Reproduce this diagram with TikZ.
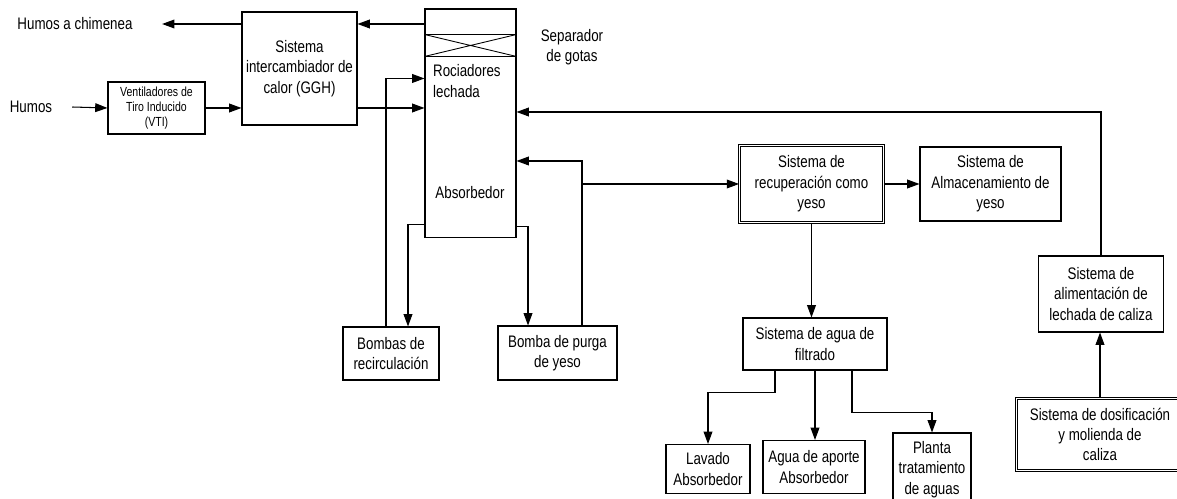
\documentclass[tikz,border=0pt]{standalone}
\usepackage{fontspec}
\setmainfont{Liberation Sans}[FakeStretch=0.8]
\usetikzlibrary{arrows.meta, positioning, calc}

\begin{document}
\begin{tikzpicture}[
  x=0.02cm, y=-0.02cm,
  box/.style={draw, line width=0.6pt, align=center, inner sep=1pt, font=\fontsize{9.5}{11.6}\selectfont},
  dbox/.style={box, double, double distance=1.1pt, line width=0.5pt},
  flow/.style={draw, line width=0.6pt, -{Triangle[length=7pt, width=5pt]}},
  lbl/.style={align=center, inner sep=1pt, font=\fontsize{9.5}{11.6}\selectfont},
]
\useasboundingbox (0,0) rectangle (1177,499);

% blocks
\node[box, minimum width=2.3cm,  minimum height=2.26cm] (ggh)    at (299.5,68.5) {Sistema\\intercambiador de\\calor (GGH)};
\node[box, minimum width=1.94cm, minimum height=1.04cm, font=\fontsize{7.5}{8.6}\selectfont] (vti) at (156.5,108) {Ventiladores de\\Tiro Inducido\\(VTI)};
\node[box, minimum width=1.82cm, minimum height=4.58cm] (abs)    at (470.5,123.5) {};
\node[box, minimum width=1.92cm, minimum height=1.06cm] (recirc) at (391,353.5) {Bombas de\\recirculación};
\node[box, minimum width=2.38cm, minimum height=1.08cm] (purga)  at (557.5,353) {Bomba de purga\\de yeso};
\node[dbox, minimum width=2.88cm, minimum height=1.54cm] (recup) at (811.5,184) {Sistema de\\recuperación como\\yeso};
\node[box, minimum width=2.82cm, minimum height=1.48cm] (almac)  at (990.5,184) {Sistema de\\Almacenamiento de\\yeso};
\node[box, minimum width=2.88cm, minimum height=1.04cm] (filt)   at (815,344) {Sistema de agua de\\filtrado};
\node[box, minimum width=1.68cm, minimum height=0.98cm] (lavado) at (708,469) {Lavado\\Absorbedor};
\node[box, minimum width=2.04cm, minimum height=1.06cm] (aporte) at (814,467) {Agua de aporte\\Absorbedor};
\node[box, minimum width=1.56cm, minimum height=1.46cm] (planta) at (932,469.5) {Planta\\tratamiento\\de aguas};
\node[box, minimum width=2.5cm,  minimum height=1.52cm] (alim)   at (1101,294) {Sistema de\\alimentación de\\lechada de caliza};
\node[dbox, minimum width=3.34cm, minimum height=1.44cm] (dosif) at (1100,434.5) {Sistema de dosificación\\y molienda de\\caliza};

% labels
\node[lbl] (chim)   at (75,24)  {Humos a chimenea};
\node[lbl] (humos)  at (31,107) {Humos};
\node[lbl, align=left, anchor=west] (rocia) at (431,81) {Rociadores\\lechada};
\node[lbl] (absorb) at (470,193) {Absorbedor};
\node[lbl] (sep)    at (572,47) {Separador\\de gotas};

% separador de gotas
\draw[line width=0.6pt] ([yshift=-0.52cm]abs.north west) coordinate (s1) -- ([yshift=-0.52cm]abs.north east) coordinate (s2);
\draw[line width=0.6pt] ([yshift=-0.96cm]abs.north west) coordinate (s3) -- ([yshift=-0.96cm]abs.north east) coordinate (s4);
\draw[line width=0.5pt] (s1) -- (s4) (s2) -- (s3);

% gases
\draw[flow] (abs.west |- chim) -- (ggh.east |- chim);
\draw[flow] (ggh.west |- chim) -- ([xshift=0.55cm]chim.east);
\draw[flow] ([xshift=0.36cm]humos.east) -- (vti.west);
\draw[flow] (vti.east) -- (vti.east -| ggh.west);
\draw[flow] (vti.east -| ggh.east) -- (vti.east -| abs.west);

% recirculacion
\draw[flow] ([yshift=0.28cm]abs.south west) -| ([xshift=0.34cm]recirc.north);
\draw[flow] ([xshift=-0.1cm]recirc.north) |- ([yshift=-1.4cm]abs.north west);

% purga
\draw[flow] ([yshift=0.24cm]abs.south east) -| ([xshift=-0.59cm]purga.north);
\draw[flow] ([xshift=0.49cm]purga.north) |- ([yshift=-0.75cm]abs.east);
\draw[flow] ([xshift=0.49cm]purga.north) |- (recup.west);

% yeso
\draw[flow] (recup.east) -- (almac.west);
\draw[flow] (recup.south) -- (recup.south |- filt.north);
\draw[flow] ([xshift=-0.8cm]filt.south) -- ++(0,22) -| (lavado.north);
\draw[flow] (filt.south) -- (filt.south |- aporte.north);
\draw[flow] ([xshift=0.74cm]filt.south) -- ++(0,42) -| (planta.north);

% caliza
\draw[flow] (dosif.north) -- (dosif.north |- alim.south);
\draw[flow] (alim.north) |- ([yshift=0.23cm]abs.east);
\end{tikzpicture}
\end{document}
